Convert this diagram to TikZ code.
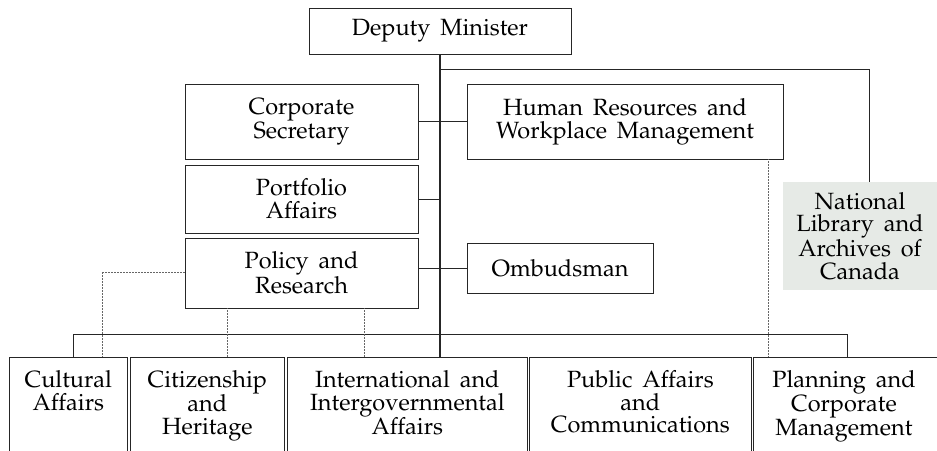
\documentclass[tikz,border=0pt]{standalone}
\usepackage[T1]{fontenc}
\usepackage{mathpazo}
\definecolor{nlacgrey}{RGB}{230,234,230}
\newcommand{\orgfont}{\fontencoding{T1}\fontfamily{ppl}\fontsize{23.5}{22.8}\selectfont\spaceskip=0.42em plus 0.1em minus 0.05em\relax}
\tikzset{
  orgbox/.style={draw=black!85, line width=0.7pt, rectangle, inner sep=0pt},
  boxtext/.style={align=center, inner sep=0pt, font=\orgfont},
  link/.style={draw=black!85, line width=0.7pt},
  trunk/.style={draw=black!85, line width=1.3pt},
  dotlink/.style={draw=black!60, line width=0.5pt, densely dotted}
}
\begin{document}
\begin{tikzpicture}[x=1pt,y=-1pt]
\clip (0,0) rectangle (937,450);
% top
\node[orgbox, minimum width=262pt, minimum height=46pt, boxtext] (dm) at (440,31) {Deputy Minister};
% left column
\node[orgbox, minimum width=233pt, minimum height=75pt, boxtext] (cs) at (301.5,121.5) {Corporate\\Secretary};
\node[orgbox, minimum width=233pt, minimum height=68pt, boxtext] (pa) at (301.5,199) {Portfolio\\Affairs};
\node[orgbox, minimum width=233pt, minimum height=70pt, boxtext] (pr) at (301.5,273) {Policy and\\Research};
% right column
\node[orgbox, minimum width=316pt, minimum height=75pt, boxtext] (hr) at (625,121.5) {Human Resources and\\Workplace Management};
\node[orgbox, minimum width=186pt, minimum height=50pt, boxtext] (om) at (560,268) {Ombudsman};
\node[fill=nlacgrey, rectangle, inner sep=0pt, minimum width=154pt, minimum height=108pt, boxtext] (nlac) at (860,236) {National\\Library and\\Archives of\\Canada};
% bottom boxes
\node[orgbox, minimum width=118pt, minimum height=110pt, anchor=north west] (cult) at (9,357) {};
\node[orgbox, minimum width=154pt, minimum height=110pt, anchor=north west] (cit) at (130,357) {};
\node[orgbox, minimum width=240pt, minimum height=110pt, anchor=north west] (intl) at (287,357) {};
\node[orgbox, minimum width=222pt, minimum height=110pt, anchor=north west] (pub) at (529,357) {};
\node[orgbox, minimum width=200pt, minimum height=110pt, anchor=north west] (plan) at (753,357) {};
\node[boxtext, anchor=north] (cultt) at ([yshift=-13pt]cult.north) {Cultural\\Affairs};
\node[boxtext, anchor=north] (citt) at ([yshift=-13pt]cit.north) {Citizenship\\and\\Heritage};
\node[boxtext, anchor=north] (intlt) at ([yshift=-13pt]intl.north) {International and\\Intergovernmental\\Affairs};
\node[boxtext, anchor=north] (pubt) at ([yshift=-13pt]pub.north) {Public Affairs\\and\\Communications};
\node[boxtext, anchor=north] (plant) at (844,370) {Planning and\\Corporate\\Management};
% coordinates
\coordinate (nlacA) at (440,69);
\coordinate (nlacB) at (869,69);
\coordinate (busL) at (73,334);
\coordinate (busR) at (847,334);
\coordinate (dotL) at (102,272);
\coordinate (dotC) at (227,308);
\coordinate (dotI) at (364,308);
\coordinate (dotH) at (768,159);
% connectors
\draw[trunk] (dm.south) -- (dm.south |- intl.north);
\draw[link] (nlacA) -- (nlacB) -- (nlacB |- nlac.north);
\draw[link] (cs.east) -- (hr.west);
\draw[link] (pa.east) -- (pa.east -| dm.south);
\draw[link] (pr.east |- om.west) -- (om.west);
\draw[link] (busL |- cult.north) -- (busL) -- (busR) -- (busR |- plan.north);
\draw[dotlink] (pr.west |- dotL) -- (dotL) -- (dotL |- cult.north);
\draw[dotlink] (dotC |- pr.south) -- (dotC |- cit.north);
\draw[dotlink] (dotI |- pr.south) -- (dotI |- intl.north);
\draw[dotlink] (dotH |- hr.south) -- (dotH |- plan.north);
\end{tikzpicture}
\end{document}
